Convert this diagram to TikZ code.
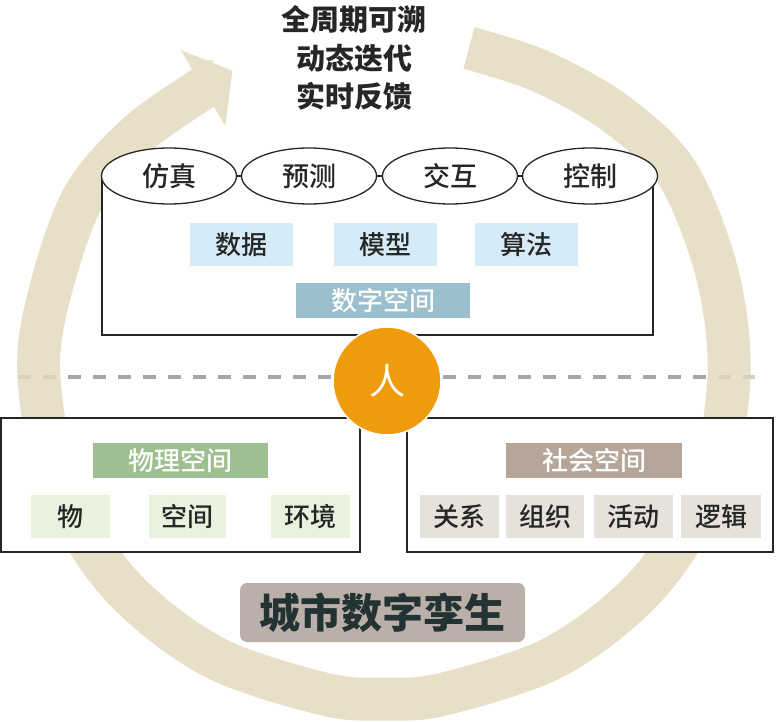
\documentclass[tikz,border=0pt]{standalone}
\usepackage{fontspec}
\setmainfont{Noto Sans CJK SC}
\newfontfamily\medfont{Noto Sans CJK SC Medium}
\usetikzlibrary{shapes.geometric}
\definecolor{ringc}{HTML}{E8DFC8}
\definecolor{dashc}{HTML}{A5A5A5}
\definecolor{dashfaint}{HTML}{D9D1BD}
\definecolor{lblue}{HTML}{D6EBF8}
\definecolor{dblue}{HTML}{9CBFCD}
\definecolor{dgreen}{HTML}{9EBF8F}
\definecolor{lgreen}{HTML}{E8F2DD}
\definecolor{dtaupe}{HTML}{B5A699}
\definecolor{lgray}{HTML}{E5E2DB}
\definecolor{titlebg}{HTML}{BBB0A9}
\definecolor{orangec}{HTML}{F09B0C}
\definecolor{txt}{HTML}{262626}
\definecolor{titletxt}{HTML}{233232}
\begin{document}
\begin{tikzpicture}[x=1pt,y=-1pt,
  frame/.style={draw=black!85, line width=1.3pt, fill=white, inner sep=0pt},
  oval/.style={ellipse, draw=black!85, line width=1.3pt, fill=white,
    minimum width=135pt, minimum height=56pt, inner sep=0pt,
    font=\medfont\fontsize{27}{27}\selectfont, text=txt},
  tag/.style={inner sep=0pt, font=\medfont\fontsize{26}{26}\selectfont, text=txt,
    minimum height=43pt},
  head/.style={inner sep=0pt, font=\medfont\fontsize{26}{26}\selectfont, text=white,
    minimum height=35pt},
  ringline/.style={draw=ringc, line width=43pt},
  dashline/.style={line width=3.5pt, dash pattern=on 13pt off 12pt}
]
\useasboundingbox (0,0) rectangle (777,722);

% dashed separator
\coordinate (dL) at (18,377);
\coordinate (dR) at (755,377);
\draw[dashline, draw=dashc] (dL) -- (dR);

% ring arrow
\draw[ringline] plot[smooth, tension=0.55] coordinates {
  (469,48) (540,71) (615,113) (677,173) (717,273) (729,377) (708,487)
  (648,584) (556.5,656) (444,694) (384,699) (324,694) (211.5,656)
  (119.7,584) (59.8,487) (39,377) (48,300) (82,200) (137,135) (203,88) (213.4,81.9)};
\coordinate (hA) at (180.8,50.0);
\coordinate (hB) at (225.2,126.0);
\coordinate (hT) at (232.3,70.8);
\fill[ringc] (hA) -- (hT) -- (hB) -- cycle;

% faint dashes over the ring
\coordinate (f1a) at (18,377); \coordinate (f1b) at (31,377);
\coordinate (f2a) at (43,377); \coordinate (f2b) at (56,377);
\coordinate (f3a) at (718,377); \coordinate (f3b) at (731,377);
\coordinate (f4a) at (743,377); \coordinate (f4b) at (755,377);
\draw[dashfaint, line width=3.5pt] (f1a) -- (f1b) (f2a) -- (f2b) (f3a) -- (f3b) (f4a) -- (f4b);

% top text
\node[font=\fontsize{29}{38.5}\selectfont\bfseries, text=txt, align=center,
  inner sep=0pt] (goal) at (354,58) {全周期可溯\\动态迭代\\实时反馈};

% digital space frame
\node[frame, minimum width=551pt, minimum height=159pt] (digi) at (377.5,255.5) {};
\node[oval] (sim) at (169,176) {仿真};
\node[oval] (pred) at (309,176) {预测};
\node[oval] (inter) at (450,176) {交互};
\node[oval] (ctrl) at (590,176) {控制};
\node[tag, fill=lblue, minimum width=103pt] (data) at (241,244.5) {数据};
\node[tag, fill=lblue, minimum width=103pt] (model) at (385.5,244.5) {模型};
\node[tag, fill=lblue, minimum width=103pt] (algo) at (526.5,244.5) {算法};
\node[head, fill=dblue, minimum width=174pt] (digit) at (383,300.5) {数字空间};

% physical space
\node[frame, minimum width=359pt, minimum height=134pt] (phys) at (180.5,485) {};
\node[head, fill=dgreen, minimum width=175pt] (physt) at (180.5,460.5) {物理空间};
\node[tag, fill=lgreen, minimum width=79pt] (obj) at (70.5,516.5) {物};
\node[tag, fill=lgreen, minimum width=77pt] (spc) at (187,516.5) {空间};
\node[tag, fill=lgreen, minimum width=79pt] (env) at (310,516.5) {环境};

% social space
\node[frame, minimum width=366pt, minimum height=134pt] (soc) at (590,485) {};
\node[head, fill=dtaupe, minimum width=176pt] (soct) at (594,460.5) {社会空间};
\node[tag, fill=lgray, minimum width=79pt] (rel) at (459.5,516.5) {关系};
\node[tag, fill=lgray, minimum width=78pt] (org) at (545,516.5) {组织};
\node[tag, fill=lgray, minimum width=79pt] (act) at (633.5,516.5) {活动};
\node[tag, fill=lgray, minimum width=80pt] (logi) at (721,516.5) {逻辑};

% person
\node[circle, fill=orangec, draw=white, line width=1.5pt, minimum size=108pt,
  inner sep=0pt, text=white, font=\fontsize{36}{36}\selectfont] (person) at (387,381) {人};

% title
\node[fill=titlebg, rounded corners=7pt, minimum width=285pt, minimum height=59pt,
  inner sep=0pt, text=titletxt, font=\fontsize{41}{41}\selectfont\bfseries] (title) at (382.5,612.5) {城市数字孪生};
\end{tikzpicture}
\end{document}
